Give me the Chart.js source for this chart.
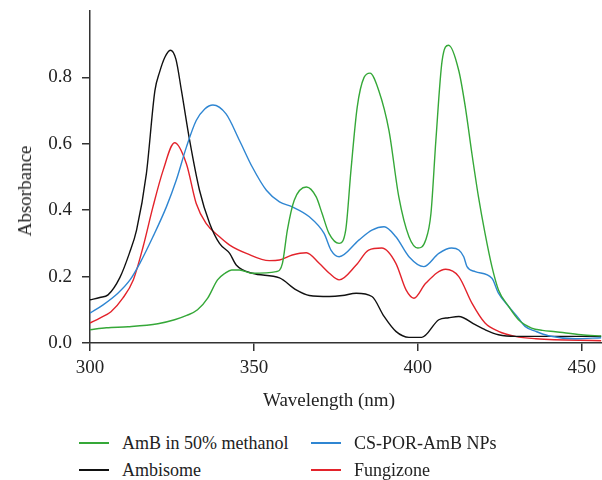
<!DOCTYPE html>
<html>
<head>
<meta charset="utf-8">
<script src="https://cdn.jsdelivr.net/npm/chart.js@4"></script>
<style>
  body { margin: 0; background: #fff; }
  #wrap { position: relative; width: 602px; height: 480px; font-family: 'Liberation Serif', 'DejaVu Serif', serif; color: #222; }
  #box { position: absolute; left: 0; top: 0; width: 602px; height: 420px; }
  .title { position: absolute; font-size: 19px; white-space: nowrap; }
  #xtitle { left: 329px; top: 400px; transform: translate(-50%, -50%); }
  #ytitle { left: 25px; top: 191px; transform: translate(-50%, -50%) rotate(-90deg); }
  #legend { position: absolute; left: 0; top: 0; font-size: 18px; }
  .item { position: absolute; white-space: nowrap; }
  .item span.line { position: absolute; top: -1px; left: 0; width: 30px; height: 2px; }
  .item span.txt { position: absolute; left: 43px; top: 0; transform: translateY(-50%); }
</style>
</head>
<body>
<div id="wrap">
  <div id="box"><canvas id="chart"></canvas></div>
  <div class="title" id="xtitle">Wavelength (nm)</div>
  <div class="title" id="ytitle">Absorbance</div>
  <div id="legend"></div>
</div>
<script>
// Spectres UV-vis
const amphoX = [300, 305, 311.6, 320.7, 325.8, 329.5, 332.8, 335.9, 338.9, 341.2, 343.2, 345.6, 349.5, 356.8, 358.7, 360.2, 362.3, 366, 369, 370.8, 372.9, 376, 378, 379.6, 381.5, 383.6, 385.4, 388.1, 391.2, 394.2, 397.3, 400, 402.4, 404, 405.5, 407.4, 409.4, 412.5, 414.5, 416.5, 418.5, 420.5, 422.6, 424.6, 427.7, 430.7, 434.7, 438, 442, 449.8, 456];
const amphoY = [0.04, 0.046, 0.049, 0.058, 0.07, 0.083, 0.1, 0.135, 0.19, 0.21, 0.22, 0.22, 0.21, 0.215, 0.24, 0.34, 0.43, 0.47, 0.44, 0.39, 0.33, 0.30, 0.34, 0.52, 0.71, 0.80, 0.813, 0.76, 0.64, 0.44, 0.32, 0.286, 0.31, 0.39, 0.61, 0.85, 0.897, 0.82, 0.71, 0.57, 0.44, 0.33, 0.23, 0.16, 0.11, 0.07, 0.045, 0.038, 0.034, 0.025, 0.021];

const npX = [300, 304, 308.5, 312.2, 315.2, 319.2, 323.3, 326.3, 329.4, 332.4, 335, 337.5, 341.5, 345.6, 349.5, 353.8, 357.8, 361.7, 366.9, 371.4, 373.5, 376, 382, 386, 389.7, 393.3, 397.3, 401.8, 406.4, 410.3, 412.5, 414, 415, 417.5, 422.6, 424.6, 427.7, 430.7, 432.7, 436, 439.8, 448, 456];
const npY = [0.09, 0.115, 0.15, 0.19, 0.24, 0.32, 0.41, 0.49, 0.59, 0.67, 0.705, 0.717, 0.69, 0.61, 0.53, 0.46, 0.425, 0.41, 0.38, 0.33, 0.28, 0.26, 0.31, 0.34, 0.35, 0.32, 0.26, 0.23, 0.27, 0.286, 0.28, 0.26, 0.23, 0.215, 0.195, 0.15, 0.11, 0.075, 0.05, 0.035, 0.022, 0.013, 0.016];

const ambiX = [300, 303, 305.5, 309.1, 312, 314.2, 317.2, 319.8, 321.2, 322.8, 324.5, 326.2, 327.9, 330.4, 333.4, 336.5, 339.5, 342.6, 344.6, 349.5, 357.8, 362.9, 366.9, 373, 377, 381.2, 386, 389.7, 393.3, 397.3, 401.2, 406.4, 409.4, 412.5, 417.5, 420.5, 424.6, 430, 456];
const ambiY = [0.13, 0.137, 0.145, 0.197, 0.27, 0.34, 0.51, 0.76, 0.815, 0.86, 0.882, 0.855, 0.76, 0.61, 0.46, 0.36, 0.30, 0.27, 0.235, 0.21, 0.196, 0.16, 0.143, 0.14, 0.143, 0.15, 0.14, 0.08, 0.035, 0.017, 0.017, 0.07, 0.076, 0.08, 0.055, 0.04, 0.025, 0.02, 0.02];

const fungiX = [300, 303, 306.4, 310, 313.2, 316.2, 319.2, 322.3, 325.8, 329.4, 332.4, 335.4, 339.5, 342.6, 347.7, 354.7, 357.8, 361.7, 366, 369.9, 373, 376, 381.2, 385, 389, 393.3, 396.4, 398.8, 402.4, 408.5, 412.5, 416.5, 420.5, 424.6, 429.7, 436, 456];
const fungiY = [0.06, 0.075, 0.094, 0.135, 0.19, 0.29, 0.41, 0.52, 0.603, 0.54, 0.42, 0.36, 0.32, 0.295, 0.27, 0.248, 0.25, 0.265, 0.272, 0.24, 0.21, 0.19, 0.235, 0.28, 0.286, 0.24, 0.16, 0.135, 0.18, 0.222, 0.2, 0.12, 0.06, 0.035, 0.02, 0.013, 0.007];

const labels = ['AmB in 50% methanol', 'CS-POR-AmB NPs', 'Ambisome', 'Fungizone'];
const colors = ['#35a838', '#2f86d2', '#111111', '#e3232b'];
const xTicks = [300, 350, 400, 450];
const yTicks = [0, 0.2, 0.4, 0.6, 0.8];

function toPoints(xs, ys) {
  return xs.map((x, i) => ({ x: x, y: ys[i] }));
}

const series = [
  toPoints(amphoX, amphoY),
  toPoints(npX, npY),
  toPoints(ambiX, ambiY),
  toPoints(fungiX, fungiY),
];

const axisColor = '#333';
const tickFont = { family: "'Liberation Serif', 'DejaVu Serif', serif", size: 19 };

new Chart(document.getElementById('chart'), {
  type: 'line',
  data: {
    datasets: series.map((pts, i) => ({
      label: labels[i],
      data: pts,
      borderColor: colors[i],
      borderWidth: 1.4,
      pointRadius: 0,
      fill: false,
      cubicInterpolationMode: 'monotone',
    })),
  },
  options: {
    responsive: true,
    maintainAspectRatio: false,
    animation: false,
    layout: { padding: { top: 11, right: 0, left: 0, bottom: 0 } },
    plugins: { legend: { display: false }, tooltip: { enabled: false } },
    scales: {
      x: {
        type: 'linear',
        min: 300,
        max: 456,
        afterBuildTicks: (s) => { s.ticks = xTicks.map(v => ({ value: v })); },
        afterFit: (s) => { s.height = 77; },
        grid: { drawOnChartArea: false, tickLength: 8, color: axisColor, lineWidth: 1.5 },
        border: { display: true, color: axisColor, width: 1.5 },
        ticks: { color: '#222', font: tickFont, padding: 6, maxRotation: 0, callback: (v) => v },
      },
      y: {
        min: 0,
        max: 1.0,
        afterBuildTicks: (s) => { s.ticks = yTicks.map(v => ({ value: v })); },
        // largeur fixe et pas de marge auto en haut
        afterFit: (s) => { s.width = 90; s.paddingTop = 0; s.paddingBottom = 0; },
        grid: { drawOnChartArea: false, tickLength: 8, color: axisColor, lineWidth: 1.5 },
        border: { display: true, color: axisColor, width: 1.5 },
        ticks: { color: '#222', font: tickFont, padding: 10, callback: (v) => v.toFixed(1) },
      },
    },
  },
});

// Légende en deux colonnes comme sur la figure
const legendPos = [[79, 443], [311, 443], [79, 470], [311, 470]];
const legend = document.getElementById('legend');
labels.forEach((lab, i) => {
  const item = document.createElement('div');
  item.className = 'item';
  item.style.left = legendPos[i][0] + 'px';
  item.style.top = legendPos[i][1] + 'px';
  item.innerHTML = `<span class="line" style="background:${colors[i]}"></span><span class="txt">${lab}</span>`;
  legend.appendChild(item);
});
</script>
</body>
</html>
